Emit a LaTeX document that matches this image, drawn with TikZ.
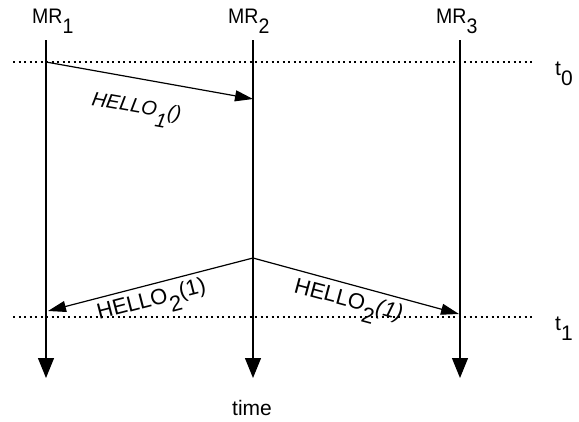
\documentclass[tikz,border=0pt]{standalone}
\usepackage{fontspec}
\setmainfont{Liberation Sans}
\usetikzlibrary{arrows.meta}
\newcommand{\lowsub}[1]{\raisebox{-0.5em}{#1}}
\begin{document}
\begin{tikzpicture}[x=1pt,y=-1pt,
 life/.style={line width=1.2pt,-{Triangle[width=16pt,length=20pt]}},
 msg/.style={line width=1.2pt,-{Triangle[width=11pt,length=18pt]}},
 tline/.style={line width=1.2pt,dash pattern=on 2pt off 3.5pt},
 lbl/.style={font=\fontsize{21}{24}\selectfont, inner sep=0pt, anchor=base west},
 mlbl/.style={font=\fontsize{22}{26}\selectfont, inner sep=0pt, anchor=base west}]
\useasboundingbox (0,0) rectangle (579,421);
% lifelines
\node[lbl] (mr1) at (32,23) {\scalebox{0.93}[1]{MR\lowsub{1}}};
\node[lbl] (mr2) at (228,23) {\scalebox{0.93}[1]{MR\lowsub{2}}};
\node[lbl] (mr3) at (436,23) {\scalebox{0.93}[1]{MR\lowsub{3}}};
\coordinate (a1) at (46,40); \coordinate (b1) at (46,378);
\coordinate (a2) at (253,40); \coordinate (b2) at (253,378);
\coordinate (a3) at (460,40); \coordinate (b3) at (460,378);
\draw[life] (a1) -- (b1);
\draw[life] (a2) -- (b2);
\draw[life] (a3) -- (b3);
% time lines
\coordinate (t0l) at (13,62); \coordinate (t0r) at (533,62);
\coordinate (t1l) at (13,317); \coordinate (t1r) at (533,317);
\draw[tline] (t0l) -- (t0r);
\draw[tline] (t1l) -- (t1r);
\node[lbl] (t0) at (555,75) {t\lowsub{0}};
\node[lbl] (t1) at (555,330) {t\lowsub{1}};
% messages
\coordinate (s1) at (46,62); \coordinate (r1) at (253,99);
\draw[msg] (s1) -- (r1);
\node[lbl, font={\fontsize{20}{24}\selectfont\itshape}, rotate=-10] (h1) at (91,105) {HELLO\lowsub{1}()};
\coordinate (ap) at (253,258);
\coordinate (rl) at (48,311); \coordinate (rr) at (459,314);
\draw[msg] (ap) -- (rl);
\draw[msg] (ap) -- (rr);
\node[mlbl, rotate=14.5] (h2l) at (99,320) {HELLO\lowsub{2}(1)};
\node[mlbl, rotate=-15] (h2r) at (293,292) {HELLO\lowsub{2}\textit{(1)}};
\node[lbl] (time) at (232,415) {time};
\end{tikzpicture}
\end{document}
